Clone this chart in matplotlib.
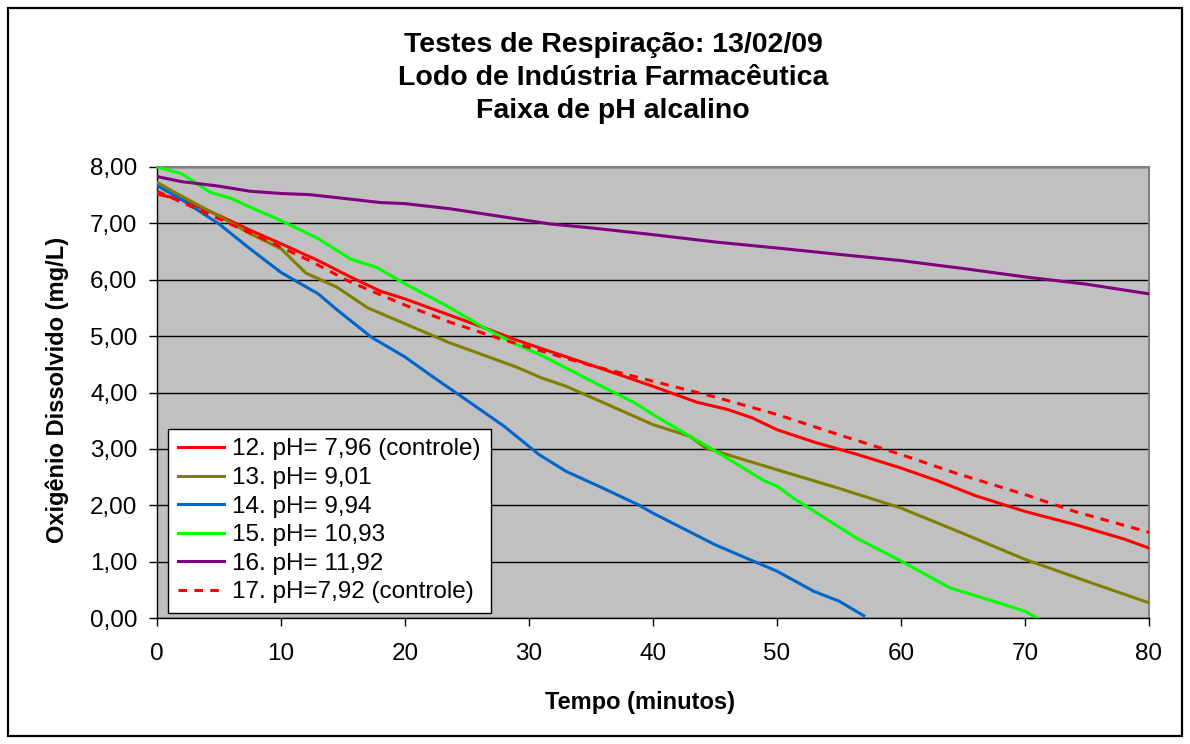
import matplotlib
matplotlib.use("Agg")
import matplotlib.pyplot as plt
from matplotlib.patches import Rectangle
from matplotlib.ticker import FuncFormatter, MultipleLocator

plt.rcParams['font.family'] = ['Liberation Sans', 'DejaVu Sans']

# ---- data ----
t12 = [0, 2, 5, 7.5, 10, 13, 15.5, 18, 20, 23.5, 26, 29, 31, 35.5, 40, 43.5, 46, 48, 50, 53, 56.5, 60, 63, 66, 70, 74, 78, 80]
v12 = [7.52, 7.42, 7.14, 6.88, 6.64, 6.34, 6.06, 5.80, 5.66, 5.38, 5.18, 4.93, 4.78, 4.45, 4.11, 3.83, 3.70, 3.55, 3.34, 3.12, 2.90, 2.66, 2.43, 2.17, 1.89, 1.66, 1.40, 1.24]

t13 = [0, 2, 5, 7.5, 10, 12, 14.5, 17, 20, 23.5, 26, 29, 31, 33, 36, 40, 43, 44.2, 47, 50, 55, 60, 65, 70, 75, 80]
v13 = [7.73, 7.48, 7.13, 6.82, 6.55, 6.12, 5.87, 5.50, 5.22, 4.89, 4.69, 4.45, 4.26, 4.11, 3.82, 3.43, 3.22, 3.02, 2.83, 2.63, 2.30, 1.95, 1.50, 1.04, 0.65, 0.27]

t14 = [0, 2, 5, 7.5, 10, 13, 14.5, 17.3, 20, 22.3, 25, 28, 30.8, 33, 36, 38.8, 40, 45, 50, 53, 55, 57]
v14 = [7.67, 7.42, 6.99, 6.55, 6.13, 5.75, 5.47, 4.98, 4.63, 4.27, 3.86, 3.40, 2.90, 2.60, 2.30, 2.01, 1.86, 1.30, 0.83, 0.47, 0.30, 0.04]

t15 = [0, 2, 4.3, 6, 7.5, 10, 13, 15.6, 17.7, 20, 23.6, 26.3, 29, 31, 35.6, 38.5, 40, 43, 44.6, 49, 50, 51.3, 56.4, 60, 64, 67, 70, 71]
v15 = [8.00, 7.88, 7.55, 7.44, 7.29, 7.05, 6.73, 6.37, 6.22, 5.93, 5.51, 5.16, 4.85, 4.66, 4.14, 3.82, 3.61, 3.22, 3.02, 2.43, 2.34, 2.13, 1.42, 1.01, 0.53, 0.33, 0.12, 0.00]

t16 = [0, 2, 5, 7.5, 10, 12.3, 15.6, 18, 20, 23.6, 26.3, 31.7, 35, 40, 45, 50.6, 55, 60, 65, 70, 75, 80]
v16 = [7.83, 7.74, 7.66, 7.57, 7.53, 7.51, 7.43, 7.37, 7.35, 7.26, 7.17, 6.99, 6.92, 6.80, 6.67, 6.55, 6.45, 6.34, 6.20, 6.05, 5.92, 5.75]

t17 = [0, 4.8, 9.1, 12.3, 15.6, 20, 23.6, 27.7, 31.7, 35, 40, 45, 50, 55, 60, 64.4, 70, 74, 80]
v17 = [7.57, 7.10, 6.67, 6.34, 5.96, 5.55, 5.25, 4.95, 4.69, 4.48, 4.20, 3.92, 3.61, 3.25, 2.90, 2.57, 2.19, 1.89, 1.52]

labels = ["12. pH= 7,96 (controle)", "13. pH= 9,01", "14. pH= 9,94",
          "15. pH= 10,93", "16. pH= 11,92", "17. pH=7,92 (controle)"]
colors = ["#FF0000", "#808000", "#0066CC", "#00FF00", "#800080", "#FF0000"]

title_lines = ["Testes de Respiração: 13/02/09", "Lodo de Indústria Farmacêutica", "Faixa de pH alcalino"]
xlabel = "Tempo (minutos)"
ylabel = "Oxigênio Dissolvido (mg/L)"

# ---- figure ----
W, H = 1190, 744
fig = plt.figure(figsize=(W / 100, H / 100), dpi=100)
fig.patch.set_facecolor("white")
fig.add_artist(Rectangle((8 / W, 8 / H), 1 - 16 / W, 1 - 16 / H, transform=fig.transFigure,
                         fill=False, edgecolor="black", linewidth=1.6))

ax = fig.add_axes([157 / W, 1 - 618 / H, (1149 - 157) / W, (618 - 167) / H])
ax.set_facecolor("#C0C0C0")

series = [(t12, v12), (t13, v13), (t14, v14), (t15, v15), (t16, v16), (t17, v17)]
for i, ((tt, vv), lab, col) in enumerate(zip(series, labels, colors)):
    if i == 5:
        ax.plot(tt, vv, color=col, lw=2.2, linestyle=(0, (2.8, 2.4)), label=lab, zorder=3)
    else:
        ax.plot(tt, vv, color=col, lw=2.2, label=lab, zorder=3)

ax.set_xlim(0, 80)
ax.set_ylim(0, 8)
ax.xaxis.set_major_locator(MultipleLocator(10))
ax.yaxis.set_major_locator(MultipleLocator(1))
ax.yaxis.set_major_formatter(FuncFormatter(lambda v, p: f"{v:.2f}".replace(".", ",")))
ax.grid(axis="y", color="black", lw=1)
ax.set_axisbelow(True)
ax.tick_params(axis="both", direction="out", length=6, width=1, colors="black", labelsize=17.5)
ax.tick_params(axis="x", pad=12)
ax.tick_params(axis="y", pad=8)
for s in ["left", "bottom"]:
    ax.spines[s].set_color("black")
    ax.spines[s].set_linewidth(1)
for s in ["top", "right"]:
    ax.spines[s].set_color("#808080")
    ax.spines[s].set_linewidth(1.5)

fig.text(640 / W, 1 - 703 / H, xlabel, ha="center", va="center", fontsize=17, fontweight="bold")
fig.text(57 / W, 1 - 390 / H, ylabel, ha="center", va="center", rotation=90, fontsize=17, fontweight="bold")
fig.text(613 / W, 1 - 78 / H, "\n".join(title_lines), ha="center", va="center",
         fontsize=20.5, fontweight="bold", linespacing=1.36)

leg = ax.legend(loc="lower left", bbox_to_anchor=(0.011, 0.011), fontsize=17.5, frameon=True,
                fancybox=False, edgecolor="black", facecolor="white", framealpha=1,
                handlelength=1.9, handletextpad=0.35, labelspacing=0.27, borderpad=0.4,
                borderaxespad=0)
leg.get_frame().set_linewidth(1)

fig.savefig("out.png", dpi=100)
